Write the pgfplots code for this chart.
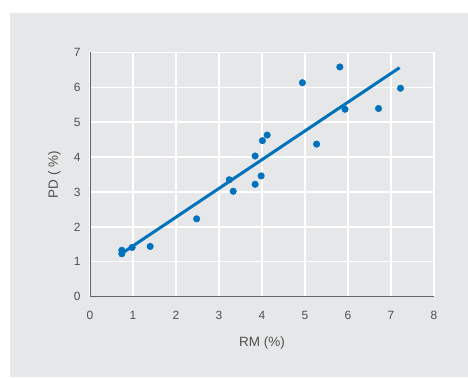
\documentclass[border=0pt]{standalone}
\usepackage{fontspec}
\setmainfont{Liberation Sans}
\usepackage{pgfplots}
\pgfplotsset{compat=1.18}
\definecolor{bggray}{RGB}{230,231,232}
\definecolor{ptblue}{RGB}{0,114,188}
\definecolor{txtgray}{RGB}{80,80,80}
\definecolor{axgray}{RGB}{100,100,100}
\begin{document}
\begin{tikzpicture}[x=1bp,y=1bp]
\fill[white] (-90,-80.3) rectangle (378,296.7);
\fill[bggray] (-80,-80.3) rectangle (378,283.7);
\begin{axis}[
  at={(0,0)}, anchor=south west,
  scale only axis,
  width=344bp, height=244.4bp,
  xmin=0, xmax=8, ymin=0, ymax=7,
  xtick={0,...,8}, ytick={0,...,7},
  axis x line*=bottom, axis y line*=left,
  axis line style={draw=axgray, line width=0.9bp, -},
  major tick length=0pt,
  grid=major,
  major grid style={draw=white, line width=1.3bp},
  axis on top=false,
  /pgf/number format/assume math mode=true,
  tick label style={font=\fontsize{12}{14}\selectfont, text=txtgray},
  xticklabel style={yshift=-11bp},
  yticklabel style={xshift=-6bp},
  xlabel={RM (\%)},
  ylabel={PD ( \%)},
  label style={font=\fontsize{13.5}{16}\selectfont, text=txtgray},
  xlabel style={at={(axis description cs:0.5,-0.151)}, anchor=north},
  ylabel style={at={(axis description cs:-0.1038,0.5)}, anchor=center},
  clip=false,
]
\addplot[ptblue, line width=3bp, no marks] coordinates {(0.75,1.25) (7.2,6.56)};
\addplot[only marks, mark=*, mark size=3.3bp, mark options={fill=ptblue, draw=ptblue}] coordinates {
(0.74,1.33) (0.74,1.23) (0.98,1.41) (1.40,1.44) (2.48,2.23)
(3.24,3.35) (3.33,3.02) (3.84,3.22) (3.84,4.03) (3.98,3.46)
(4.01,4.47) (4.12,4.63) (4.94,6.13) (5.27,4.37) (5.81,6.58)
(5.93,5.37) (6.71,5.39) (7.22,5.97)
};
\end{axis}
\end{tikzpicture}
\end{document}
